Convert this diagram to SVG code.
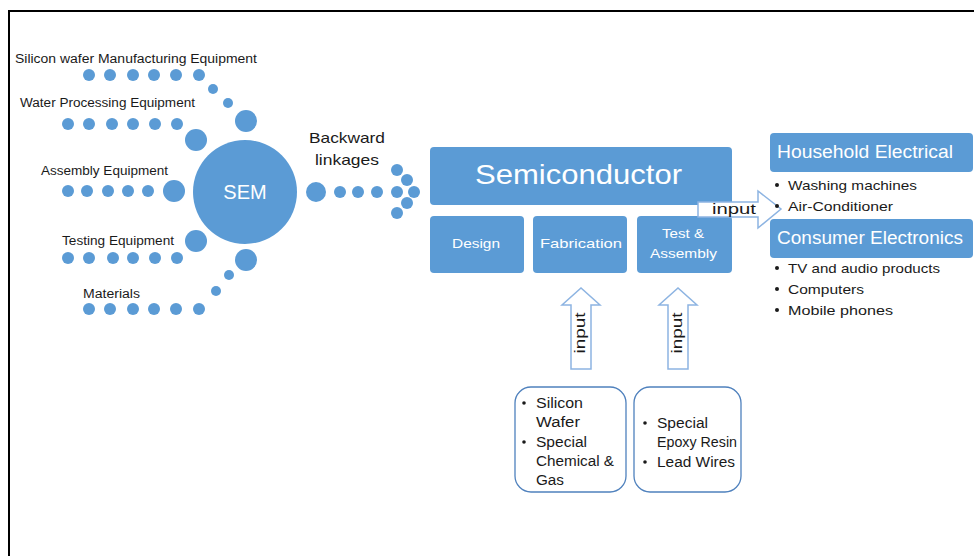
<svg xmlns="http://www.w3.org/2000/svg" width="974" height="556" viewBox="0 0 974 556">
  <style>
    .lbl { font-family: "Liberation Sans", Arial, sans-serif; fill: #1a1a1a; }
    .wt { font-family: "Liberation Sans", Arial, sans-serif; fill: #ffffff; }
    .dot { fill: #5B9BD5; }
    .box { fill: #5B9BD5; }
    .src { fill: #ffffff; stroke: #4F81BD; stroke-width: 1.3; }
    .blk { fill: #ffffff; stroke: #8DB4E2; stroke-width: 1.5; }
  </style>

  <rect width="974" height="556" fill="#ffffff"/>
  <!-- frame -->
  <line x1="9" y1="11" x2="974" y2="11" stroke="#000" stroke-width="2"/>
  <line x1="9" y1="10" x2="9" y2="556" stroke="#000" stroke-width="2"/>

  <!-- SEM hub with its dotted spokes -->
  <g id="sem">
    <circle cx="245" cy="192" r="52" class="dot"/>
    <text x="245" y="199" class="wt" font-size="20" text-anchor="middle">SEM</text>
  </g>

  <g id="silicon-wafer-equipment">
    <text x="15" y="63" class="lbl" font-size="12" textLength="242" lengthAdjust="spacingAndGlyphs">Silicon wafer Manufacturing Equipment</text>
    <circle cx="89" cy="75" r="6" class="dot"/><circle cx="110" cy="75" r="6" class="dot"/>
    <circle cx="133" cy="75" r="6" class="dot"/><circle cx="154" cy="75" r="6" class="dot"/>
    <circle cx="176" cy="75" r="6" class="dot"/><circle cx="199" cy="75" r="6" class="dot"/>
    <circle cx="213" cy="89" r="5" class="dot"/><circle cx="228" cy="103" r="5" class="dot"/>
    <circle cx="246" cy="121" r="11" class="dot"/>
  </g>

  <g id="water-processing-equipment">
    <text x="20" y="107" class="lbl" font-size="12" textLength="175" lengthAdjust="spacingAndGlyphs">Water Processing  Equipment</text>
    <circle cx="68" cy="124" r="6" class="dot"/><circle cx="89" cy="124" r="6" class="dot"/>
    <circle cx="112" cy="124" r="6" class="dot"/><circle cx="133" cy="124" r="6" class="dot"/>
    <circle cx="155" cy="124" r="6" class="dot"/><circle cx="177" cy="124" r="6" class="dot"/>
    <circle cx="196" cy="140" r="11" class="dot"/>
  </g>

  <g id="assembly-equipment">
    <text x="41" y="175" class="lbl" font-size="12" textLength="127" lengthAdjust="spacingAndGlyphs">Assembly Equipment</text>
    <circle cx="68" cy="191" r="6" class="dot"/><circle cx="87" cy="191" r="6" class="dot"/>
    <circle cx="108" cy="191" r="6" class="dot"/><circle cx="128" cy="191" r="6" class="dot"/>
    <circle cx="148" cy="191" r="6" class="dot"/>
    <circle cx="174" cy="191" r="11" class="dot"/>
  </g>

  <g id="testing-equipment">
    <text x="62" y="245" class="lbl" font-size="12" textLength="112" lengthAdjust="spacingAndGlyphs">Testing Equipment</text>
    <circle cx="68" cy="258" r="6" class="dot"/><circle cx="89" cy="258" r="6" class="dot"/>
    <circle cx="113" cy="258" r="6" class="dot"/><circle cx="133" cy="258" r="6" class="dot"/>
    <circle cx="155" cy="258" r="6" class="dot"/><circle cx="177" cy="258" r="6" class="dot"/>
    <circle cx="196" cy="241" r="11" class="dot"/>
  </g>

  <g id="materials">
    <text x="83" y="298" class="lbl" font-size="12" textLength="57" lengthAdjust="spacingAndGlyphs">Materials</text>
    <circle cx="89" cy="309" r="6" class="dot"/><circle cx="110" cy="309" r="6" class="dot"/>
    <circle cx="133" cy="309" r="6" class="dot"/><circle cx="154" cy="309" r="6" class="dot"/>
    <circle cx="176" cy="309" r="6" class="dot"/><circle cx="199" cy="309" r="6" class="dot"/>
    <circle cx="216" cy="291" r="5" class="dot"/><circle cx="229" cy="275" r="5" class="dot"/>
    <circle cx="246" cy="260" r="11" class="dot"/>
  </g>

  <!-- semiconductor industry blocks -->
  <g id="semiconductor">
    <rect x="430" y="147" width="302" height="58" rx="4" class="box"/>
    <text x="578.5" y="184" class="wt" font-size="28" text-anchor="middle" textLength="207" lengthAdjust="spacingAndGlyphs">Semiconductor</text>
  </g>
  <g id="design">
    <rect x="430" y="216" width="94" height="57" rx="4" class="box"/>
    <text x="476" y="248" class="wt" font-size="13" text-anchor="middle" textLength="48" lengthAdjust="spacingAndGlyphs">Design</text>
  </g>
  <g id="fabrication">
    <rect x="533" y="216" width="94" height="57" rx="4" class="box"/>
    <text x="581" y="248" class="wt" font-size="13" text-anchor="middle" textLength="82" lengthAdjust="spacingAndGlyphs">Fabrication</text>
  </g>
  <g id="test-assembly">
    <rect x="637" y="216" width="95" height="57" rx="4" class="box"/>
    <text x="683" y="238" class="wt" font-size="13" text-anchor="middle" textLength="42" lengthAdjust="spacingAndGlyphs">Test &amp;</text>
    <text x="683.5" y="258" class="wt" font-size="13" text-anchor="middle" textLength="67" lengthAdjust="spacingAndGlyphs">Assembly</text>
  </g>

  <!-- connectors: dotted linkage and block arrows (drawn over the blocks they overlap) -->
  <g id="connectors">
    <g id="backward-linkages">
      <text x="309" y="143" class="lbl" font-size="15" textLength="76" lengthAdjust="spacingAndGlyphs">Backward</text>
      <text x="315" y="165" class="lbl" font-size="15" textLength="64" lengthAdjust="spacingAndGlyphs">linkages</text>
      <circle cx="316" cy="192" r="10" class="dot"/>
      <circle cx="340" cy="192" r="6" class="dot"/><circle cx="358" cy="192" r="6" class="dot"/>
      <circle cx="377" cy="192" r="6" class="dot"/>
      <circle cx="397" cy="170" r="6" class="dot"/><circle cx="407" cy="180" r="6" class="dot"/>
      <circle cx="397" cy="192" r="6" class="dot"/><circle cx="414" cy="192" r="6" class="dot"/>
      <circle cx="407" cy="203" r="6" class="dot"/><circle cx="397" cy="213" r="6" class="dot"/>
    </g>

    <g id="input-right">
      <path d="M698,202 H758 V191 L781,209 L758,228 V217 H698 Z" class="blk"/>
      <text x="712" y="214" class="lbl" font-size="15" textLength="44" lengthAdjust="spacingAndGlyphs">input</text>
    </g>

    <g id="input-fabrication">
      <path d="M571,369 V305 H562 L581,288 L600,305 H591 V369 Z" class="blk"/>
      <text transform="translate(585,333) rotate(-90)" class="lbl" font-size="15" text-anchor="middle" textLength="41" lengthAdjust="spacingAndGlyphs">input</text>
    </g>

    <g id="input-test">
      <path d="M668,369 V305 H659 L678,288 L697,305 H688 V369 Z" class="blk"/>
      <text transform="translate(682,333) rotate(-90)" class="lbl" font-size="15" text-anchor="middle" textLength="41" lengthAdjust="spacingAndGlyphs">input</text>
    </g>
  </g>

  <!-- downstream markets -->
  <g id="household-electrical">
    <rect x="770" y="133" width="203" height="39" rx="4" class="box"/>
    <text x="777" y="158" class="wt" font-size="18" textLength="176" lengthAdjust="spacingAndGlyphs">Household Electrical</text>
    <circle cx="777" cy="185" r="2" fill="#1a1a1a"/>
    <text x="788" y="190" class="lbl" font-size="13.5" textLength="129" lengthAdjust="spacingAndGlyphs">Washing machines</text>
    <circle cx="777" cy="206" r="2" fill="#1a1a1a"/>
    <text x="788" y="211" class="lbl" font-size="13.5" textLength="105" lengthAdjust="spacingAndGlyphs">Air-Conditioner</text>
  </g>
  <g id="consumer-electronics">
    <rect x="770" y="219" width="203" height="39" rx="4" class="box"/>
    <text x="777" y="244" class="wt" font-size="18" textLength="186" lengthAdjust="spacingAndGlyphs">Consumer Electronics</text>
    <circle cx="777" cy="268" r="2" fill="#1a1a1a"/>
    <text x="788" y="273" class="lbl" font-size="13.5" textLength="152" lengthAdjust="spacingAndGlyphs">TV and audio products</text>
    <circle cx="777" cy="289" r="2" fill="#1a1a1a"/>
    <text x="788" y="294" class="lbl" font-size="13.5" textLength="76" lengthAdjust="spacingAndGlyphs">Computers</text>
    <circle cx="777" cy="310" r="2" fill="#1a1a1a"/>
    <text x="788" y="315" class="lbl" font-size="13.5" textLength="105" lengthAdjust="spacingAndGlyphs">Mobile phones</text>
  </g>

  <!-- raw inputs -->
  <g id="fabrication-inputs">
    <rect x="515" y="387" width="111" height="105" rx="16" class="src"/>
    <circle cx="524" cy="403" r="1.8" fill="#1a1a1a"/>
    <text x="536" y="408" class="lbl" font-size="14" textLength="47" lengthAdjust="spacingAndGlyphs">Silicon</text>
    <text x="536" y="427" class="lbl" font-size="14" textLength="44" lengthAdjust="spacingAndGlyphs">Wafer</text>
    <circle cx="524" cy="442" r="1.8" fill="#1a1a1a"/>
    <text x="536" y="447" class="lbl" font-size="14" textLength="51" lengthAdjust="spacingAndGlyphs">Special</text>
    <text x="536" y="466" class="lbl" font-size="14" textLength="78" lengthAdjust="spacingAndGlyphs">Chemical &amp;</text>
    <text x="536" y="485" class="lbl" font-size="14" textLength="28" lengthAdjust="spacingAndGlyphs">Gas</text>
  </g>
  <g id="test-inputs">
    <rect x="634" y="387" width="107" height="105" rx="16" class="src"/>
    <circle cx="645" cy="423" r="1.8" fill="#1a1a1a"/>
    <text x="657" y="428" class="lbl" font-size="14" textLength="51" lengthAdjust="spacingAndGlyphs">Special</text>
    <text x="657" y="447" class="lbl" font-size="14" textLength="80" lengthAdjust="spacingAndGlyphs">Epoxy Resin</text>
    <circle cx="645" cy="462" r="1.8" fill="#1a1a1a"/>
    <text x="657" y="467" class="lbl" font-size="14" textLength="78" lengthAdjust="spacingAndGlyphs">Lead Wires</text>
  </g>
</svg>
